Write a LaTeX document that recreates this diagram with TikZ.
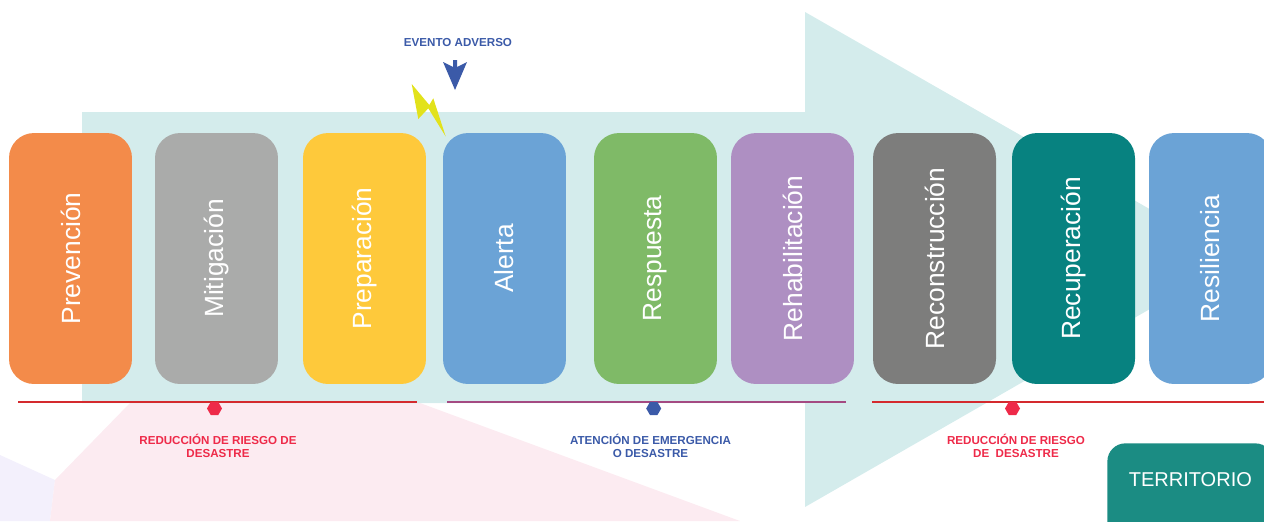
\documentclass[tikz,border=0pt]{standalone}
\usepackage{fontspec}
\setmainfont{Liberation Sans}
\usetikzlibrary{positioning,shapes.geometric}
\definecolor{fondo}{HTML}{D4ECEC}
\definecolor{rosa}{HTML}{FCEBF1}
\definecolor{lila}{HTML}{F3F0FC}
\definecolor{naranja}{HTML}{F38B4A}
\definecolor{grisclaro}{HTML}{AAABAA}
\definecolor{amarillo}{HTML}{FEC93B}
\definecolor{azulclaro}{HTML}{6BA3D6}
\definecolor{verde}{HTML}{7FBA67}
\definecolor{morado}{HTML}{AE8FC2}
\definecolor{grisoscuro}{HTML}{7D7D7C}
\definecolor{turquesa}{HTML}{078280}
\definecolor{territorio}{HTML}{1B8C83}
\definecolor{rojo}{HTML}{D42A2E}
\definecolor{rojotxt}{HTML}{EE2A49}
\definecolor{azul}{HTML}{3B5AA8}
\definecolor{violeta}{HTML}{A44A82}
\definecolor{rayo}{HTML}{E2E21B}

\begin{document}
\begin{tikzpicture}
[x=0.02cm,y=-0.02cm,
      fase/.style={rounded corners=0.5cm,minimum width=5.02cm,minimum height=2.46cm,
      rotate=90,text=white,inner sep=0pt,font=\fontsize{15}{18}\selectfont},
      etiqueta/.style={font=\fontsize{6.6}{7.8}\selectfont\bfseries,align=center},
      punto/.style={regular polygon,regular polygon sides=6,minimum size=0.3cm,inner sep=0pt},
      linea/.style={line width=1.3pt}]
 \clip (0,0) rectangle (1264,521);
 % fondo
 \fill[lila] (0,455) -- (55,480) -- (50,521) -- (0,521) -- cycle;
 \fill[rosa] (130,403) -- (420,403) -- (740,521) -- (50,521) -- (55,480) -- cycle;
 \fill[fondo] (82,112) -- (805,112) -- (805,12) -- (1237,259) -- (805,507)
   -- (805,403) -- (82,403) -- cycle;
 % fases
 \node[fase,fill=naranja] (prev) at (70.5,258.5) {Prevención};
 \node[fase,fill=grisclaro] (miti) at (216.5,258.5) {Mitigación};
 \node[fase,fill=amarillo] (prep) at (364.5,258.5) {Preparación};
 \node[fase,fill=azulclaro] (aler) at (504.5,258.5) {Alerta};
 \node[fase,fill=verde] (resp) at (655.5,258.5) {Respuesta};
 \node[fase,fill=morado] (reha) at (792.5,258.5) {Rehabilitación};
 \node[fase,fill=grisoscuro] (reco) at (934.5,258.5) {Reconstrucción};
 \node[fase,fill=turquesa] (recu) at (1073.5,258.5) {Recuperación};
 \node[fase,fill=azulclaro] (resi) at (1210.5,258.5) {Resiliencia};
 % evento
 \node[etiqueta,text=azul] (evento) at (458,43) {EVENTO ADVERSO};
 \fill[azul] (443,62) -- (453,67) -- (453,60) -- (457,60) -- (457,67) -- (467,62)
   -- (455,90) -- cycle;
 \fill[rayo] (411.7,84) -- (429.3,105) -- (433.3,98.3) -- (445.7,136.5) -- (428.3,108.3)
   -- (418.3,119) -- cycle;
 % lineas
 \coordinate (r1a) at (18,402);
 \coordinate (r1b) at (417,402);
 \coordinate (ata) at (447,402);
 \coordinate (atb) at (846,402);
 \coordinate (r2a) at (872,402);
 \coordinate (r2b) at (1264,402);
 \draw[linea,rojo] (r1a) -- (r1b);
 \draw[linea,violeta] (ata) -- (atb);
 \draw[linea,rojo] (r2a) -- (r2b);
 \node[punto,fill=rojotxt] (p1) at (214.5,408.5) {};
 \node[punto,fill=azul] (p2) at (653.7,408.5) {};
 \node[punto,fill=rojotxt] (p3) at (1012.5,408.5) {};
 \node[etiqueta,text=rojotxt] (rrd1) at (218,446) {REDUCCIÓN DE RIESGO DE\\DESASTRE};
 \node[etiqueta,text=azul] (aed) at (650.5,446) {ATENCIÓN DE EMERGENCIA\\O DESASTRE};
 \node[etiqueta,text=rojotxt] (rrd2) at (1016,446) {REDUCCIÓN DE RIESGO\\DE\ \ DESASTRE};
 % territorio
 \node[fill=territorio,text=white,rounded corners=0.36cm,anchor=north west,
   minimum width=3.32cm,text height=0.86cm,text depth=1.6cm,inner ysep=0pt,
   font=\fontsize{11.4}{13}\selectfont] (terr) at (1107,443) {TERRITORIO};
\end{tikzpicture}
\end{document}
